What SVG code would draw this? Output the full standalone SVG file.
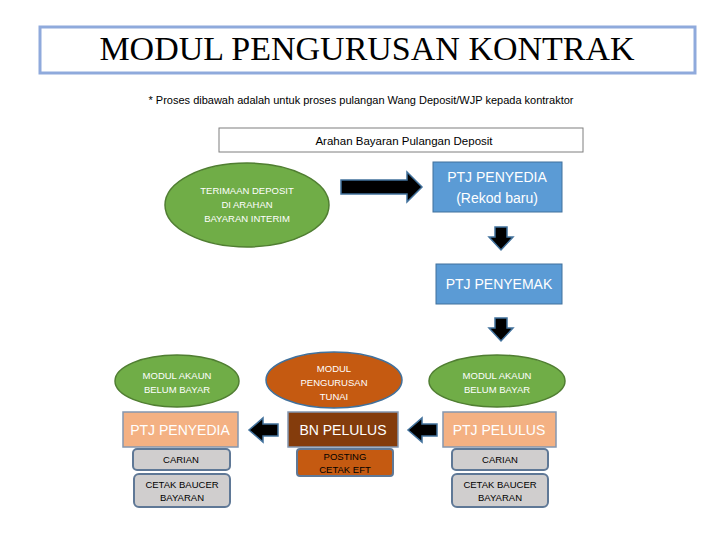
<svg xmlns="http://www.w3.org/2000/svg" width="720" height="540" viewBox="0 0 720 540">
<style>
text{font-family:"Liberation Sans",Arial,sans-serif;text-anchor:middle}
.w{fill:#fff}
.blue{fill:#5B9BD5;stroke:#41719C;stroke-width:1}
.green{fill:#70AD47;stroke:#507E32;stroke-width:1.5}
.peach{fill:#F4B183;stroke:#8497B0;stroke-width:1.5}
.gray{fill:#D0CECE;stroke:#5F7896;stroke-width:2}
.arr{fill:#000;stroke:#41719C;stroke-width:1.5}
.s9{font-size:9.5px}
</style>
<rect width="720" height="540" fill="#fff"/>
<g id="title"><rect x="40" y="27" width="655" height="46" fill="#fff" stroke="#8FAADC" stroke-width="3"/>
<text x="367" y="60" style="font-family:'Liberation Serif','Times New Roman',serif;font-size:34px">MODUL PENGURUSAN KONTRAK</text></g>
<text x="361" y="104" font-size="11">* Proses dibawah adalah untuk proses pulangan Wang Deposit/WJP kepada kontraktor</text>
<g id="arahan"><rect x="219" y="128" width="364" height="24" fill="#fff" stroke="#7F7F7F"/>
<text x="404" y="145" font-size="11.5">Arahan Bayaran Pulangan Deposit</text></g>
<g id="terimaan"><ellipse cx="247" cy="205" rx="82" ry="42" class="green"/>
<text class="w s9" x="247" y="194">TERIMAAN DEPOSIT</text><text class="w s9" x="247" y="208">DI ARAHAN</text><text class="w s9" x="247" y="222">BAYARAN INTERIM</text></g>
<g id="ptjpenyedia1"><rect x="433" y="162" width="129" height="50" class="blue"/>
<text class="w" x="497" y="182" font-size="14">PTJ PENYEDIA</text><text class="w" x="497" y="203" font-size="14">(Rekod baru)</text></g>
<g id="ptjpenyemak"><rect x="436" y="264" width="126" height="40" class="blue"/>
<text class="w" x="499" y="289" font-size="14">PTJ PENYEMAK</text></g>
<g id="modulakaun1"><ellipse cx="177" cy="381" rx="62" ry="26" class="green"/>
<text class="w s9" x="177" y="379">MODUL AKAUN</text><text class="w s9" x="177" y="393">BELUM BAYAR</text></g>
<g id="modultunai"><ellipse cx="334" cy="380" rx="68" ry="28" fill="#C55A11" stroke="#41719C" stroke-width="1.5"/>
<text class="w s9" x="334" y="372">MODUL</text><text class="w s9" x="334" y="386">PENGURUSAN</text><text class="w s9" x="334" y="400">TUNAI</text></g>
<g id="modulakaun2"><ellipse cx="497" cy="381" rx="68" ry="26" class="green"/>
<text class="w s9" x="497" y="379">MODUL AKAUN</text><text class="w s9" x="497" y="393">BELUM BAYAR</text></g>
<g id="ptjpenyedia2"><rect x="123" y="412" width="115" height="35" class="peach"/>
<text class="w" x="180" y="435" font-size="14">PTJ PENYEDIA</text></g>
<g id="bnpelulus"><rect x="288" y="412" width="110" height="35" fill="#843C0C" stroke="#8497B0" stroke-width="1.5"/>
<text class="w" x="343" y="435" font-size="14">BN PELULUS</text></g>
<g id="ptjpelulus"><rect x="443" y="412" width="113" height="35" class="peach"/>
<text class="w" x="499" y="435" font-size="14">PTJ PELULUS</text></g>
<g id="carian1"><rect x="133" y="449" width="97" height="21" rx="4" class="gray"/><text class="s9" x="181" y="463">CARIAN</text></g>
<g id="cetak1"><rect x="134" y="474" width="96" height="33" rx="5" class="gray"/><text class="s9" x="182" y="488">CETAK BAUCER</text><text class="s9" x="182" y="501">BAYARAN</text></g>
<g id="posting"><rect x="297" y="449" width="96" height="27" rx="3" fill="#C55A11" stroke="#5F7896" stroke-width="2"/><text class="s9" x="345" y="460">POSTING</text><text class="s9" x="345" y="473">CETAK EFT</text></g>
<g id="carian2"><rect x="452" y="449" width="96" height="21" rx="4" class="gray"/><text class="s9" x="500" y="463">CARIAN</text></g>
<g id="cetak2"><rect x="452" y="474" width="96" height="33" rx="5" class="gray"/><text class="s9" x="500" y="488">CETAK BAUCER</text><text class="s9" x="500" y="501">BAYARAN</text></g>
<g id="connectors">
<polygon class="arr" points="341,180 407,180 407,172 422,187 407,202 407,194 341,194"/>
<polygon class="arr" points="495,227 507,227 507,237 513,237 501,250 489,237 495,237"/>
<polygon class="arr" points="495,318 507,318 507,328 513,328 501,341 489,328 495,328"/>
<polygon class="arr" points="278,424 263,424 263,418 249,430 263,442 263,436 278,436"/>
<polygon class="arr" points="437,424 422,424 422,418 408,430 422,442 422,436 437,436"/>
</g>
</svg>
